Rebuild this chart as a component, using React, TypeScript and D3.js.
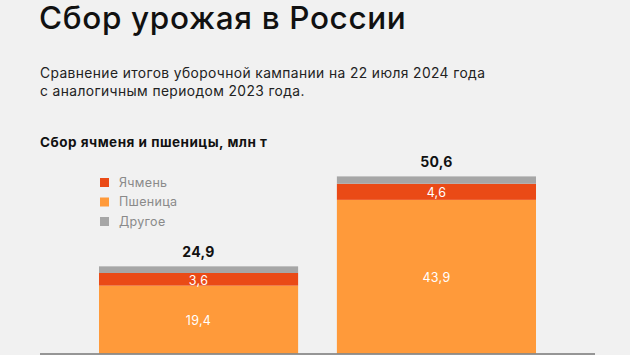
import React from "react";
import * as d3 from "d3";

const categories = ["2024", "2023"];
const seriesNames = ["Пшеница", "Ячмень", "Другое"];
const wheat = [19.4, 43.9];
const barley = [3.6, 4.6];
const totals = [24.9, 50.6];
const legendOrder = ["Ячмень", "Пшеница", "Другое"];

const colors: Record<string, string> = {
  "Пшеница": "#FF9A3A",
  "Ячмень": "#EA4A16",
  "Другое": "#A6A6A6",
};

const W = 630;
const H = 355;
const FONT = "Inter, Roboto, 'Noto Sans', sans-serif";

export default function App() {
  const x = d3
    .scaleBand<string>()
    .domain(categories)
    .range([40, 595])
    .paddingInner(0.163)
    .paddingOuter(0.248);
  const y = d3.scaleLinear().domain([0, 60]).range([353.5, 143.5]);

  const rows = categories.map((c, i) => ({
    cat: c,
    "Пшеница": wheat[i],
    "Ячмень": barley[i],
    "Другое": +(totals[i] - wheat[i] - barley[i]).toFixed(1),
  }));
  const stack = d3.stack<any>().keys(seriesNames)(rows);

  const fmt = (v: number) => v.toFixed(1).replace(".", ",");

  return (
    <svg
      width={W}
      height={H}
      style={{ position: "absolute", left: 0, top: 0, background: "#F1F1F1" }}
      fontFamily={FONT}
    >
      <rect x={0} y={0} width={W} height={H} fill="#F1F1F1" />
      <text x={39} y={28.5} fontSize={31.5} fill="#111" fontWeight={500} letterSpacing={0.65}>
        Сбор урожая в России
      </text>
      <text x={40} y={77.5} fontSize={13.8} fill="#222" letterSpacing={0.4}>
        Сравнение итогов уборочной кампании на 22 июля 2024 года
      </text>
      <text x={40} y={95.5} fontSize={13.8} fill="#222" letterSpacing={0.4}>
        с аналогичным периодом 2023 года.
      </text>
      <text x={40} y={146.5} fontSize={13.5} fontWeight={700} fill="#111" letterSpacing={0.5}>
        Сбор ячменя и пшеницы, млн т
      </text>

      {legendOrder.map((name, i) => (
        <g key={name} transform={`translate(100, ${178 + i * 19.5})`}>
          <rect width={9} height={9} fill={colors[name]} />
          <text x={19} y={4.5} dy="0.35em" fontSize={12.5} fill="#8A8A8A" letterSpacing={0.3}>
            {name}
          </text>
        </g>
      ))}

      {stack.map((s) =>
        s.map((d, i) => {
          const cat = categories[i];
          const x0 = x(cat)!;
          const y0 = y(d[1]);
          const y1 = y(d[0]);
          return (
            <g key={s.key + cat}>
              <rect
                x={x0}
                y={y0}
                width={x.bandwidth()}
                height={y1 - y0}
                fill={colors[s.key]}
              />
              {s.key !== "Другое" && (
                <text
                  x={x0 + x.bandwidth() / 2}
                  y={(y0 + y1) / 2 + 1}
                  dy="0.35em"
                  textAnchor="middle"
                  fontSize={12.5}
                  fill="#fff"
                  letterSpacing={0.3}
                >
                  {fmt(d[1] - d[0])}
                </text>
              )}
            </g>
          );
        })
      )}

      {categories.map((c, i) => (
        <text
          key={c}
          x={x(c)! + x.bandwidth() / 2}
          y={y(totals[i]) - 9}
          textAnchor="middle"
          fontSize={14}
          fontWeight={700}
          fill="#111"
          letterSpacing={0.3}
        >
          {fmt(totals[i])}
        </text>
      ))}

      <line x1={40} x2={595} y1={354} y2={354} stroke="#777" strokeWidth={1.5} />
    </svg>
  );
}
